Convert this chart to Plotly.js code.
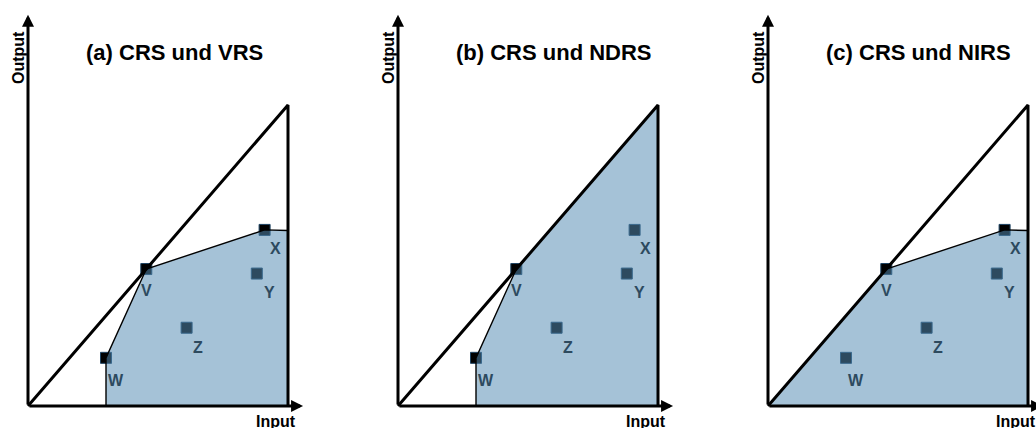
<!DOCTYPE html>
<html>
<head>
<meta charset="utf-8">
<script src="https://cdn.plot.ly/plotly-3.0.1.min.js"></script>
<style>
  html, body { margin: 0; padding: 0; background: #ffffff; }
  #chart { width: 1036px; height: 428px; }
</style>
</head>
<body>
<div id="chart"></div>
<script>
// ---- data ----
const dmuNames   = ['V', 'W', 'X', 'Y', 'Z'];
const inputVals  = [4.55, 3.0, 9.1, 8.8, 6.1];
const outputVals = [4.55, 1.6, 5.85, 4.4, 2.6];
const inputMax = 10;            // right end of the considered input range
const frontierEndOutput = 5.83; // VRS/NIRS frontier level at the input maximum
const panelTitles = ['(a) CRS und VRS', '(b) CRS und NDRS', '(c) CRS und NIRS'];
const axisLabels = { x: 'Input', y: 'Output' };

// ---- helpers ----
function P(name) { const i = dmuNames.indexOf(name); return [inputVals[i], outputVals[i]]; }
const V = P('V'), Wp = P('W'), X = P('X');
const crsSlope = V[1] / V[0];

// polygon (filled technology set) and thin frontier per panel
const hulls = [
  [[Wp[0], 0], Wp, V, X, [inputMax, frontierEndOutput], [inputMax, 0], [Wp[0], 0]],
  [[Wp[0], 0], Wp, V, [inputMax, inputMax * crsSlope], [inputMax, 0], [Wp[0], 0]],
  [[0, 0], V, X, [inputMax, frontierEndOutput], [inputMax, 0], [0, 0]]
];
const frontiers = [
  [[Wp[0], 0], Wp, V, X, [inputMax, frontierEndOutput]],
  [[Wp[0], 0], Wp, V],
  [V, X, [inputMax, frontierEndOutput]]
];

// ---- geometry (layout) ----
const FIG_W = 1036, FIG_H = 428;
const panelLeft = [0, 370, 740];
const panelWidth = [370, 370, 296];
const originPx = { x: 28, y: 406 };
const pxPerX = 26, pxPerY = 30.1;
const xArrowEnd = 10.58, yArrowEnd = 13.0;

const fillColor = 'rgba(85,140,179,0.53)';
const labelColor = '#2d4a5f';
const FONT = 'Liberation Sans, Arial, sans-serif';

const labelShift = { V: [0, -21], W: [10, -23], X: [11, -19], Y: [13, -19], Z: [11, -20] };

const traces = [];
const annotations = [];
const layout = {
  width: FIG_W, height: FIG_H,
  margin: { l: 0, r: 0, t: 0, b: 0, pad: 0 },
  paper_bgcolor: '#ffffff', plot_bgcolor: 'rgba(0,0,0,0)',
  showlegend: false,
  font: { family: FONT, color: '#000' },
  annotations: annotations
};

for (let p = 0; p < 3; p++) {
  const sfx = p === 0 ? '' : String(p + 1);
  const xa = 'x' + sfx, ya = 'y' + sfx;
  layout['xaxis' + sfx] = {
    domain: [panelLeft[p] / FIG_W, (panelLeft[p] + panelWidth[p]) / FIG_W],
    range: [-originPx.x / pxPerX, (panelWidth[p] - originPx.x) / pxPerX],
    visible: false, fixedrange: true
  };
  layout['yaxis' + sfx] = {
    domain: [0, 1], anchor: xa,
    range: [-(FIG_H - originPx.y) / pxPerY, originPx.y / pxPerY],
    visible: false, fixedrange: true
  };
  layout['xaxis' + sfx].anchor = ya;

  // DMU markers (drawn first, the translucent set covers them)
  traces.push({
    type: 'scatter', mode: 'markers', xaxis: xa, yaxis: ya,
    x: inputVals, y: outputVals,
    marker: { symbol: 'square', size: 11, color: '#000', line: { color: '#1d4363', width: 1 } },
    hoverinfo: 'skip', cliponaxis: false
  });
  // technology set
  traces.push({
    type: 'scatter', mode: 'none', xaxis: xa, yaxis: ya,
    x: hulls[p].map(d => d[0]), y: hulls[p].map(d => d[1]),
    fill: 'toself', fillcolor: fillColor, hoverinfo: 'skip'
  });
  // thin frontier
  traces.push({
    type: 'scatter', mode: 'lines', xaxis: xa, yaxis: ya,
    x: frontiers[p].map(d => d[0]), y: frontiers[p].map(d => d[1]),
    line: { color: '#000', width: 1.4 }, hoverinfo: 'skip'
  });
  // CRS ray plus input limit
  traces.push({
    type: 'scatter', mode: 'lines', xaxis: xa, yaxis: ya,
    x: [0, inputMax, inputMax], y: [0, inputMax * crsSlope, 0],
    line: { color: '#000', width: 3 }, hoverinfo: 'skip', cliponaxis: false
  });

  // axes with arrows
  annotations.push({ xref: xa, yref: ya, axref: xa, ayref: ya, x: xArrowEnd, y: 0, ax: 0, ay: 0,
    text: '', showarrow: true, arrowhead: 2, arrowsize: 0.8, arrowwidth: 3, arrowcolor: '#000', standoff: 0 });
  annotations.push({ xref: xa, yref: ya, axref: xa, ayref: ya, x: 0, y: yArrowEnd, ax: 0, ay: 0,
    text: '', showarrow: true, arrowhead: 2, arrowsize: 0.8, arrowwidth: 3, arrowcolor: '#000', standoff: 0 });

  // axis labels
  annotations.push({ xref: xa, yref: ya, x: (275.5 - originPx.x) / pxPerX, y: (originPx.y - 421) / pxPerY,
    text: '<b>' + axisLabels.x + '</b>', showarrow: false, font: { size: 16, family: FONT, color: '#000' },
    xanchor: 'center', yanchor: 'middle' });
  annotations.push({ xref: xa, yref: ya, x: (18.5 - originPx.x) / pxPerX, y: (originPx.y - 57.5) / pxPerY,
    text: '<b>' + axisLabels.y + '</b>', showarrow: false, textangle: -90,
    font: { size: 16, family: FONT, color: '#000' }, xanchor: 'center', yanchor: 'middle' });

  // panel title
  annotations.push({ xref: xa, yref: ya, x: (84 - originPx.x) / pxPerX, y: (originPx.y - 52) / pxPerY,
    text: '<b>' + panelTitles[p] + '</b>', showarrow: false, font: { size: 22, family: FONT, color: '#000' },
    xanchor: 'left', yanchor: 'middle' });

  // DMU labels
  dmuNames.forEach((n, i) => {
    annotations.push({ xref: xa, yref: ya, x: inputVals[i], y: outputVals[i],
      xshift: labelShift[n][0], yshift: labelShift[n][1],
      text: '<b>' + n + '</b>', showarrow: false, font: { size: 16, family: FONT, color: labelColor },
      xanchor: 'center', yanchor: 'middle' });
  });
}

Plotly.newPlot('chart', traces, layout, { staticPlot: true, displayModeBar: false });
</script>
</body>
</html>
